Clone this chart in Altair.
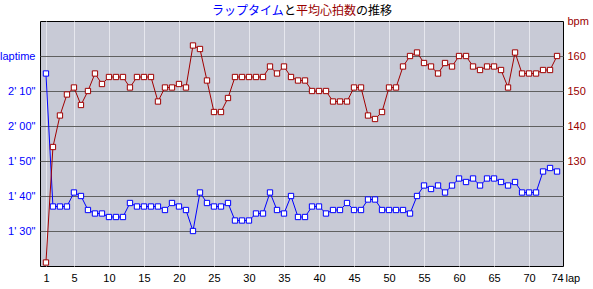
import altair as alt
import pandas as pd

laps = list(range(1, 75))
laptime_sec = [135, 97, 97, 97, 101, 100, 96, 95, 95, 94,
               94, 94, 98, 97, 97, 97, 97, 96, 98, 97,
               96, 90, 101, 98, 97, 97, 98, 93, 93, 93,
               95, 95, 101, 96, 95, 100, 94, 94, 97, 97,
               95, 96, 96, 98, 96, 96, 99, 99, 96, 96,
               96, 96, 95, 100, 103, 102, 103, 101, 103, 105,
               104, 105, 103, 105, 105, 104, 103, 104, 101, 101,
               101, 107, 108, 107]
heart_bpm = [101, 134, 143, 149, 151, 146, 150, 155, 152, 154,
             154, 154, 151, 154, 154, 154, 147, 151, 151, 152,
             151, 163, 162, 153, 144, 144, 148, 154, 154, 154,
             154, 154, 157, 155, 157, 154, 153, 153, 150, 150,
             150, 147, 147, 147, 151, 151, 143, 142, 144, 151,
             151, 157, 160, 161, 158, 157, 155, 158, 157, 160,
             160, 157, 156, 157, 157, 156, 151, 161, 155, 155,
             155, 156, 156, 160]
x_ticks = [1, 5, 10, 15, 20, 25, 30, 35, 40, 45, 50, 55, 60, 65, 70, 74]
left_ticks = [90, 100, 110, 120, 130, 140]
right_ticks = [130, 140, 150, 160, 170]
title_parts = ["ラップタイム", "と", "平均心拍数", "の推移"]
title_colors = ["#0000FF", "#000000", "#990000", "#000000"]

df = pd.DataFrame({"lap": laps, "time": laptime_sec, "bpm": heart_bpm})

BLUE = "#0000FF"
RED = "#A00000"
FONT = "Liberation Sans, Arial, sans-serif"
FS = 11

base = alt.Chart(df)

x_enc = alt.X(
    "lap:Q",
    scale=alt.Scale(domain=[0.15, 74.85], nice=False, zero=False),
    axis=alt.Axis(
        values=x_ticks, grid=True, gridColor="#E6E7EE", gridWidth=1,
        gridOpacity={"condition": {"test": "datum.value == 74", "value": 0}, "value": 1},
        ticks=False, domain=False, labelFlush=False, labelOverlap=False,
        labelPadding=6, labelFont=FONT, labelFontSize=FS, labelColor="#000000",
        title="lap", titleFont=FONT, titleFontSize=FS, titleFontWeight="normal",
        titleX=525, titleY=6, titleAlign="left", titleBaseline="top",
        titleColor="#000000",
    ),
)

left_axis = alt.Axis(
    values=left_ticks, orient="left", grid=True, gridColor="#606060", gridWidth=1,
    ticks=False, domain=False, labelPadding=5, labelFont=FONT, labelFontSize=FS,
    labelColor=BLUE, title=None,
    labelExpr="datum.value == 140 ? 'laptime' : floor(datum.value/60) + \"' \" + "
              "(datum.value % 60 < 10 ? '0' : '') + (datum.value % 60) + '\"'",
)
right_axis = alt.Axis(
    values=right_ticks, orient="right", grid=False, ticks=False, domain=False,
    labelPadding=4, labelFont=FONT, labelFontSize=FS, labelColor="#990000",
    title=None, labelFlush=False,
    labelExpr="datum.value == 170 ? 'bpm' : datum.label",
)

y_left = alt.Y("time:Q", scale=alt.Scale(domain=[80, 150], nice=False, zero=False), axis=left_axis)
y_right = alt.Y("bpm:Q", scale=alt.Scale(domain=[100, 170], nice=False, zero=False), axis=right_axis)

blue_line = base.mark_line(color=BLUE, strokeWidth=1).encode(x=x_enc, y=y_left)
blue_pts = base.mark_point(shape="square", filled=True, fill="white", stroke=BLUE,
                           strokeWidth=1, size=28, opacity=1).encode(x=x_enc, y=y_left)
red_line = base.mark_line(color=RED, strokeWidth=1).encode(x=x_enc, y=y_right)
red_pts = base.mark_point(shape="square", filled=True, fill="white", stroke=RED,
                          strokeWidth=1, size=28, opacity=1).encode(x=x_enc, y=y_right)

left_layer = alt.layer(blue_line, blue_pts)
right_layer = alt.layer(red_line, red_pts)
data_chart = alt.layer(left_layer, right_layer).resolve_scale(y="independent")

# title pieces
title_layers = []
start = 172
for part, col in zip(title_parts, title_colors):
    t = alt.Chart(pd.DataFrame({"t": [part]})).mark_text(
        align="left", baseline="middle", font="Noto Sans CJK JP", fontSize=12, color=col
    ).encode(x=alt.value(start), y=alt.value(-10), text="t:N")
    title_layers.append(t)
    start += 12 * len(part)

chart = alt.layer(data_chart, *title_layers).properties(
    width=523, height=245,
    autosize=alt.AutoSizeParams(type="none"),
    padding={"left": 40, "top": 21, "right": 30, "bottom": 23},
    background="white",
).configure_view(fill="#C8CAD6", stroke="#000000", strokeWidth=1)

chart.save("out.html", embed_options={"renderer": "svg", "actions": False})
